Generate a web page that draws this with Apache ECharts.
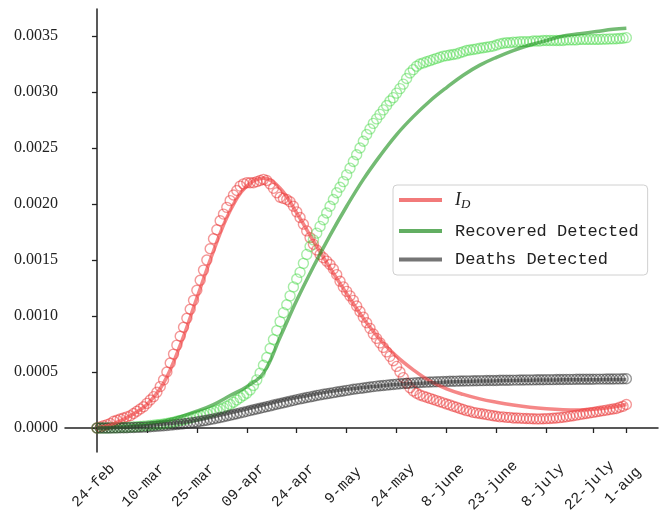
<!DOCTYPE html>
<html>
<head>
<meta charset="utf-8">
<script src="https://cdn.jsdelivr.net/npm/echarts@6.0.0/dist/echarts.min.js"></script>
<style>
  html, body { margin: 0; padding: 0; background: #fff; }
  #chart { width: 666px; height: 519px; }
</style>
</head>
<body>
<div id="chart"></div>
<script>
// all values below are in units of 1e-4 (fraction of population)
var SCALE = 1e-4;

// x ticks: day index from 24-feb
var tickDays = [0, 15, 30, 45, 60, 75, 90, 105, 120, 135, 149, 159];
var tickLabels = ['24-feb', '10-mar', '25-mar', '09-apr', '24-apr', '9-may', '24-may',
                  '8-june', '23-june', '8-july', '22-july', '1-aug'];
var yTicks = [0, 0.0005, 0.0010, 0.0015, 0.0020, 0.0025, 0.0030, 0.0035];

// observed data, one value per day (day 0 .. 159)
var idObs = [
  0, 0.1, 0.2, 0.3, 0.4, 0.6, 0.7, 0.8, 0.9, 1.0,
  1.1, 1.3, 1.5, 1.7, 1.9, 2.2, 2.5, 2.8, 3.2, 3.7,
  4.3, 5.0, 5.8, 6.6, 7.4, 8.2, 9.0, 9.8, 10.6, 11.4,
  12.3, 13.2, 14.1, 15.0, 16.0, 16.9, 17.7, 18.5, 19.1, 19.7,
  20.3, 20.8, 21.2, 21.6, 21.8, 21.9, 21.9, 21.9, 22.0, 22.1,
  22.2, 22.1, 21.8, 21.4, 21.0, 20.6, 20.5, 20.4, 20.2, 19.8,
  19.3, 18.8, 18.2, 17.6, 17.0, 16.4, 15.9, 15.5, 15.2, 14.9,
  14.6, 14.2, 13.7, 13.1, 12.6, 12.2, 11.8, 11.4, 10.9, 10.4,
  9.9, 9.4, 8.9, 8.4, 8.0, 7.6, 7.2, 6.8, 6.4, 6.0,
  5.5, 5.0, 4.5, 4.0, 3.6, 3.3, 3.1, 2.95, 2.85, 2.75,
  2.65, 2.55, 2.45, 2.35, 2.25, 2.15, 2.05, 1.95, 1.85, 1.75,
  1.65, 1.55, 1.5, 1.4, 1.35, 1.3, 1.25, 1.2, 1.15, 1.1,
  1.05, 1.0, 1.0, 0.95, 0.95, 0.9, 0.9, 0.88, 0.86, 0.85,
  0.84, 0.83, 0.82, 0.82, 0.83, 0.84, 0.85, 0.87, 0.9, 0.93,
  0.96, 1.0, 1.05, 1.1, 1.15, 1.2, 1.25, 1.3, 1.35, 1.4,
  1.45, 1.5, 1.55, 1.6, 1.65, 1.7, 1.75, 1.85, 1.95, 2.1
];
var recObs = [
  0, 0, 0, 0, 0.01, 0.02, 0.03, 0.04, 0.05, 0.06,
  0.08, 0.1, 0.12, 0.14, 0.16, 0.19, 0.22, 0.25, 0.29, 0.33,
  0.37, 0.42, 0.47, 0.53, 0.6, 0.67, 0.74, 0.82, 0.9, 0.98,
  1.06, 1.14, 1.22, 1.3, 1.4, 1.5, 1.6, 1.7, 1.8, 1.95,
  2.1, 2.3, 2.5, 2.7, 2.9, 3.1, 3.4, 3.8, 4.3, 4.9,
  5.6, 6.3, 7.1, 7.9, 8.7, 9.5, 10.3, 11.0, 11.8, 12.6,
  13.3, 13.9, 14.7, 15.5, 16.2, 16.8, 17.4, 18.0, 18.6, 19.2,
  19.8, 20.4, 21.0, 21.5, 22.0, 22.6, 23.2, 23.8, 24.4, 25.0,
  25.6, 26.2, 26.7, 27.2, 27.6, 28.0, 28.4, 28.8, 29.2, 29.5,
  29.9, 30.3, 30.7, 31.2, 31.7, 32.0, 32.3, 32.5, 32.6, 32.7,
  32.8, 32.9, 33.0, 33.1, 33.2, 33.25, 33.3, 33.35, 33.4, 33.5,
  33.6, 33.7, 33.75, 33.8, 33.85, 33.9, 33.95, 34.0, 34.05, 34.1,
  34.2, 34.3, 34.35, 34.4, 34.4, 34.45, 34.45, 34.5, 34.5, 34.5,
  34.5, 34.55, 34.55, 34.55, 34.6, 34.6, 34.6, 34.6, 34.6, 34.6,
  34.6, 34.65, 34.65, 34.65, 34.65, 34.7, 34.7, 34.7, 34.7, 34.7,
  34.7, 34.7, 34.72, 34.72, 34.74, 34.74, 34.76, 34.78, 34.8, 34.85
];
var deathObs = [
  0, 0, 0, 0, 0, 0.01, 0.01, 0.02, 0.02, 0.03,
  0.04, 0.05, 0.06, 0.07, 0.08, 0.1, 0.12, 0.14, 0.16, 0.18,
  0.2, 0.23, 0.26, 0.29, 0.32, 0.35, 0.38, 0.42, 0.46, 0.5,
  0.55, 0.6, 0.65, 0.7, 0.76, 0.82, 0.88, 0.94, 1.0, 1.07,
  1.14, 1.21, 1.28, 1.35, 1.42, 1.49, 1.56, 1.63, 1.7, 1.77,
  1.84, 1.91, 1.98, 2.05, 2.12, 2.19, 2.26, 2.33, 2.4, 2.47,
  2.54, 2.6, 2.66, 2.72, 2.78, 2.84, 2.9, 2.96, 3.01, 3.06,
  3.11, 3.16, 3.21, 3.26, 3.31, 3.36, 3.41, 3.46, 3.5, 3.54,
  3.58, 3.62, 3.66, 3.7, 3.74, 3.77, 3.8, 3.83, 3.86, 3.89,
  3.92, 3.95, 3.97, 3.99, 4.01, 4.03, 4.05, 4.07, 4.09, 4.1,
  4.11, 4.12, 4.13, 4.14, 4.15, 4.16, 4.17, 4.18, 4.19, 4.2,
  4.2, 4.21, 4.21, 4.22, 4.22, 4.23, 4.23, 4.24, 4.24, 4.25,
  4.25, 4.26, 4.26, 4.27, 4.27, 4.28, 4.28, 4.29, 4.29, 4.3,
  4.3, 4.3, 4.31, 4.31, 4.31, 4.32, 4.32, 4.32, 4.33, 4.33,
  4.33, 4.34, 4.34, 4.34, 4.35, 4.35, 4.35, 4.36, 4.36, 4.36,
  4.37, 4.37, 4.37, 4.38, 4.38, 4.38, 4.39, 4.39, 4.4, 4.4
];

// fitted model curves, sampled every 5 days
var fitDays = [0, 5, 10, 15, 20, 25, 30, 35, 40, 45, 50, 55, 60, 65, 70, 75, 80,
               85, 90, 95, 100, 105, 110, 115, 120, 125, 130, 135, 140, 145, 150, 155, 159];
var idFit = [0, 0.4, 1.1, 2.1, 4.0, 7.4, 11.6, 15.8, 19.4, 21.6, 22.3, 21.4, 19.2, 16.7, 14.3, 12.0, 9.8,
             7.9, 6.4, 5.2, 4.2, 3.5, 3.0, 2.6, 2.3, 2.05, 1.85, 1.72, 1.64, 1.62, 1.7, 1.88, 2.1];
var recFit = [0, 0.05, 0.15, 0.35, 0.6, 1.0, 1.5, 2.1, 2.9, 3.7, 4.9, 8.1, 11.4, 14.4, 17.2, 19.8, 22.2,
              24.3, 26.2, 27.8, 29.2, 30.4, 31.5, 32.4, 33.1, 33.7, 34.2, 34.6, 35.0, 35.2, 35.4, 35.6, 35.7];
var deathFit = [0, 0.03, 0.1, 0.2, 0.35, 0.5, 0.7, 1.0, 1.35, 1.7, 2.05, 2.4, 2.72, 3.0, 3.25, 3.45, 3.62,
                3.76, 3.88, 3.97, 4.04, 4.1, 4.15, 4.19, 4.22, 4.25, 4.27, 4.29, 4.3, 4.31, 4.32, 4.33, 4.34];

function daily(arr) {
  return arr.map(function (v, i) { return [i, v * SCALE]; });
}
function fitted(arr) {
  return arr.map(function (v, i) { return [fitDays[i], v * SCALE]; });
}
function circles(name, data, color) {
  return {
    name: name, type: 'scatter', data: daily(data),
    symbol: 'circle', symbolSize: 10,
    itemStyle: { color: 'rgba(0,0,0,0)', borderColor: color, borderWidth: 1.4 },
    emphasis: { disabled: true }, z: 2
  };
}
function fitLine(name, data, color) {
  return {
    name: name, type: 'line', data: fitted(data),
    showSymbol: false, smooth: 0.4,
    lineStyle: { color: color, width: 3.5 },
    itemStyle: { color: color },
    emphasis: { disabled: true }, z: 3
  };
}

var chart = echarts.init(document.getElementById('chart'));
chart.setOption({
  animation: false,
  backgroundColor: '#fff',
  grid: { left: 65, right: 8, top: 9, bottom: 67 },
  xAxis: {
    type: 'value', min: -9.6, max: 168.5,
    splitLine: { show: false },
    axisLine: { lineStyle: { color: '#222', width: 1.5 } },
    axisTick: { show: true, customValues: tickDays, length: 5, lineStyle: { color: '#222', width: 1.3 } },
    axisLabel: {
      customValues: tickDays, rotate: 45, margin: 30,
      align: 'center', verticalAlign: 'middle', padding: [0, 10, 0, 0],
      fontFamily: 'Liberation Mono', fontSize: 15, color: '#222',
      formatter: function (v) { return tickLabels[tickDays.indexOf(v)]; }
    }
  },
  yAxis: {
    type: 'value', min: -0.000214, max: 0.003741,
    splitLine: { show: false },
    axisLine: { show: true, lineStyle: { color: '#222', width: 1.5 } },
    axisTick: { show: true, customValues: yTicks, length: 5, lineStyle: { color: '#222', width: 1.3 } },
    axisLabel: {
      customValues: yTicks, margin: 7,
      fontFamily: 'Liberation Serif', fontSize: 16, color: '#222',
      formatter: function (v) { return v.toFixed(4); }
    }
  },
  legend: {
    orient: 'vertical', left: 393, top: 185,
    padding: [6, 9, 7, 6], itemGap: 11.5,
    itemWidth: 43, itemHeight: 4, icon: 'rect',
    backgroundColor: '#fff', borderColor: '#d0d0d0', borderWidth: 1, borderRadius: 4,
    textStyle: {
      fontFamily: 'Liberation Mono', fontSize: 17, color: '#222', padding: [0, 0, 0, 8],
      rich: {
        i: { fontFamily: 'Liberation Serif', fontStyle: 'italic', fontSize: 18, color: '#222' },
        s: { fontFamily: 'Liberation Serif', fontStyle: 'italic', fontSize: 13, color: '#222', padding: [9, 0, 0, 0] }
      }
    },
    formatter: function (name) { return name === 'I_D' ? '{i|I}{s|D}' : name; },
    data: [
      { name: 'I_D', itemStyle: { color: '#f27a7a' } },
      { name: 'Recovered Detected', itemStyle: { color: '#62ae62' } },
      { name: 'Deaths Detected', itemStyle: { color: '#757575' } }
    ]
  },
  series: [
    circles('I_D data', idObs, 'rgba(232,40,40,0.6)'),
    circles('Recovered data', recObs, 'rgba(70,215,70,0.6)'),
    circles('Deaths data', deathObs, 'rgba(40,40,40,0.6)'),
    fitLine('I_D', idFit, 'rgba(240,70,70,0.65)'),
    fitLine('Recovered Detected', recFit, 'rgba(40,150,40,0.65)'),
    fitLine('Deaths Detected', deathFit, 'rgba(50,50,50,0.6)')
  ]
});
</script>
</body>
</html>
